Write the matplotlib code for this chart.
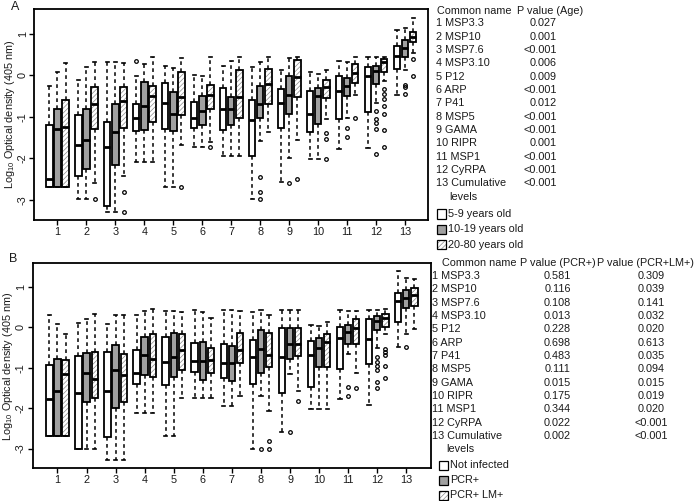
import matplotlib
matplotlib.use('Agg')
import matplotlib.pyplot as plt
from matplotlib.patches import Rectangle, PathPatch

plt.rcParams['font.family'] = ['Liberation Sans', 'DejaVu Sans']
plt.rcParams['mathtext.fontset'] = 'custom'
plt.rcParams['mathtext.rm'] = 'Liberation Sans'
plt.rcParams['mathtext.it'] = 'Liberation Sans:italic'
plt.rcParams['hatch.linewidth'] = 0.5

# ---------------- data ----------------
groups = list(range(1, 14))
tick_labels = [str(g) for g in groups]
y_ticks = [-3, -2, -1, 0, 1]

# (whisker low, Q1, median, Q3, whisker high) per antigen 1..13
# Panel A: age groups
age_5_9 = [(-2.70, -2.70, -2.51, -1.21, -0.27), (-2.98, -2.42, -1.69, -0.96, -0.11),
           (-3.29, -3.15, -1.73, -1.13, 0.31), (-2.10, -1.35, -1.04, -0.69, -0.03),
           (-2.69, -1.29, -0.66, -0.19, 0.22), (-1.74, -1.26, -1.04, -0.65, 0.01),
           (-1.94, -1.32, -0.82, -0.31, 0.23), (-2.98, -1.94, -1.08, -0.59, 0.19),
           (-2.57, -1.28, -0.68, -0.34, 0.12), (-2.02, -1.36, -0.94, -0.39, 0.09),
           (-1.78, -1.05, -0.38, -0.02, 0.35), (-1.76, -0.89, -0.03, 0.19, 0.43),
           (-0.47, 0.15, 0.46, 0.71, 1.09)]
age_5_9_out = {4: [0.35]}

age_10_19 = [(-2.70, -2.70, -1.29, -0.81, 0.09), (-2.98, -2.26, -1.55, -0.81, 0.21),
             (-3.29, -2.17, -1.37, -0.69, 0.31), (-2.10, -1.33, -0.73, -0.16, 0.28),
             (-2.69, -1.34, -0.94, -0.41, 0.17), (-1.74, -1.21, -0.85, -0.51, -0.03),
             (-1.94, -1.21, -0.81, -0.52, 0.35), (-1.58, -1.03, -0.70, -0.25, 0.32),
             (-2.00, -0.93, -0.47, -0.03, 0.41), (-2.02, -1.18, -0.51, -0.30, 0.03),
             (-1.04, -0.50, -0.27, -0.06, 0.31), (-0.68, -0.21, 0.11, 0.23, 0.43),
             (0.13, 0.43, 0.65, 0.85, 1.13)]
age_10_19_out = {8: [-2.45, -2.82, -2.98], 9: [-2.60], 11: [-1.26, -1.48],
                 12: [-0.86, -1.05, -1.14, -1.30, -1.89], 13: [-0.23, -0.29, -0.45]}

age_20_80 = [(-2.70, -2.70, -1.25, -0.60, 0.29), (-2.59, -1.30, -0.70, -0.28, 0.33),
             (-2.44, -1.28, -0.63, -0.29, 0.29), (-2.10, -1.12, -0.49, -0.27, 0.45),
             (-1.68, -0.96, -0.53, 0.09, 0.41), (-1.60, -0.82, -0.47, -0.24, 0.43),
             (-1.94, -1.03, -0.52, 0.13, 0.43), (-1.37, -0.70, -0.21, 0.14, 0.43),
             (-1.56, -0.53, -0.05, 0.37, 0.43), (-1.06, -0.55, -0.29, -0.12, 0.13),
             (-0.47, -0.19, 0.05, 0.27, 0.43), (-0.15, 0.07, 0.31, 0.39, 0.45),
             (0.53, 0.79, 0.92, 1.05, 1.38)]
age_20_80_out = {2: [-2.99], 3: [-2.82, -3.29], 5: [-2.69], 6: [-1.74], 9: [-2.51],
                 10: [-1.40, -1.54, -2.02], 11: [-1.02],
                 12: [-0.34, -0.46, -0.57, -0.75, -0.93, -1.32, -1.72], 13: [0.38, -0.02]}

# Panel B: infection status
not_infected = [(-2.69, -2.69, -1.78, -0.94, 0.30), (-3.00, -3.00, -1.63, -0.71, 0.12),
                (-3.28, -2.71, -1.58, -0.61, 0.09), (-2.11, -1.41, -1.13, -0.57, 0.31),
                (-2.69, -1.43, -0.86, -0.23, 0.40), (-1.76, -1.11, -0.82, -0.39, 0.43),
                (-1.95, -1.26, -0.88, -0.40, 0.43), (-3.00, -1.39, -0.73, -0.31, 0.39),
                (-2.58, -1.63, -0.73, -0.01, 0.43), (-2.03, -1.47, -0.68, -0.34, 0.07),
                (-1.77, -1.04, -0.27, 0.02, 0.43), (-1.91, -0.90, -0.28, 0.20, 0.43),
                (-0.49, 0.13, 0.65, 0.86, 1.40)]
not_infected_out = {}

pcr_pos = [(-2.69, -2.69, -1.58, -0.77, 0.09), (-3.00, -1.84, -1.13, -0.64, 0.20),
           (-3.28, -2.00, -1.05, -0.44, 0.32), (-2.11, -1.17, -0.68, -0.24, 0.40),
           (-2.69, -1.23, -0.73, -0.13, 0.40), (-1.76, -1.31, -0.82, -0.36, 0.39),
           (-1.95, -1.33, -0.88, -0.46, 0.43), (-1.71, -1.12, -0.54, -0.07, 0.43),
           (-1.15, -0.79, -0.42, -0.01, 0.43), (-2.03, -0.98, -0.52, -0.25, 0.03),
           (-0.65, -0.42, -0.11, 0.05, 0.40), (-0.52, -0.07, 0.16, 0.28, 0.43),
           (-0.16, 0.49, 0.73, 0.92, 1.23)]
pcr_pos_out = {8: [-3.01], 9: [-2.58], 11: [-1.47, -1.70],
               12: [-0.73, -0.86, -0.96, -1.05, -1.34, -1.50], 13: [-0.49]}

pcr_lm_pos = [(-2.69, -2.69, -1.16, -0.81, -0.17), (-3.00, -1.74, -1.27, -0.61, 0.34),
              (-3.28, -1.85, -1.18, -0.66, 0.32), (-2.11, -1.22, -0.77, -0.17, 0.46),
              (-1.76, -1.06, -0.55, -0.15, 0.39), (-1.76, -1.13, -0.80, -0.50, 0.24),
              (-1.71, -0.88, -0.57, -0.14, 0.41), (-2.07, -0.97, -0.68, -0.14, 0.32),
              (-1.58, -0.71, -0.42, -0.01, 0.43), (-2.03, -0.97, -0.36, -0.15, 0.14),
              (-1.14, -0.41, -0.02, 0.20, 0.40), (-0.16, 0.01, 0.24, 0.34, 0.45),
              (-0.03, 0.54, 0.80, 0.97, 1.21)]
pcr_lm_pos_out = {8: [-2.82, -3.01], 9: [-1.81], 11: [-1.49],
                  12: [-0.54, -0.61, -0.68, -0.96, -1.25]}

antigen_names = ["1 MSP3.3", "2 MSP10", "3 MSP7.6", "4 MSP3.10", "5 P12", "6 ARP",
                 "7 P41", "8 MSP5", "9 GAMA", "10 RIPR", "11 MSP1", "12 CyRPA",
                 "13 Cumulative"]
p_age = ["0.027", "0.001", "<0.001", "0.006", "0.009", "<0.001", "0.012", "<0.001",
         "<0.001", "0.001", "<0.001", "<0.001", "<0.001"]
p_pcr = ["0.581", "0.116", "0.108", "0.013", "0.228", "0.698", "0.483", "0.111",
         "0.015", "0.175", "0.344", "0.022", "0.002"]
p_pcr_lm = ["0.309", "0.039", "0.141", "0.032", "0.020", "0.613", "0.035", "0.094",
            "0.015", "0.019", "0.020", "<0.001", "<0.001"]
legend_A = ["5-9 years old", "10-19 years old", "20-80 years old"]
legend_B = ["Not infected", "PCR+", "PCR+ LM+"]

# ---------------- styling ----------------
W, H = 698, 501
fig = plt.figure(figsize=(W / 100, H / 100), dpi=100)
TXT = '#1a1a1a'
FS = 7.8
GREY = '#a0a0a0'
HATCH_C = '#8c8c8c'
offsets = [-0.28, 0.0, 0.28]
kinds = ['white', 'grey', 'hatch']


def fx(px):
    return px / W


def fy(py):
    return 1 - py / H


def draw_series(ax, stats_rows, outl, k):
    stats = []
    for i, (lo, q1, med, q3, hi) in enumerate(stats_rows):
        stats.append(dict(whislo=lo, q1=q1, med=med, q3=q3, whishi=hi,
                          fliers=outl.get(i + 1, [])))
    pos = [g + offsets[k] for g in groups]
    kind = kinds[k]
    if kind == 'white':
        bprops = dict(facecolor='white', edgecolor='black', linewidth=1.3)
    elif kind == 'grey':
        bprops = dict(facecolor=GREY, edgecolor='black', linewidth=1.3)
    else:
        bprops = dict(facecolor='white', edgecolor=HATCH_C, linewidth=0.0,
                      hatch='///////')
    bp = ax.bxp(stats, positions=pos, widths=0.22, capwidths=0.11,
                patch_artist=True, showfliers=True, manage_ticks=False,
                boxprops=bprops,
                whiskerprops=dict(color='black', linewidth=1.1,
                                  linestyle=(0, (2.4, 2.2))),
                capprops=dict(color='black', linewidth=1.2),
                medianprops=dict(color='black', linewidth=2.0),
                flierprops=dict(marker='o', markersize=2.6,
                                markerfacecolor='none',
                                markeredgecolor='black',
                                markeredgewidth=0.9))
    if kind == 'hatch':
        for b in bp['boxes']:
            ax.add_patch(PathPatch(b.get_path(), fill=False, edgecolor='black',
                                   linewidth=1.3, zorder=b.get_zorder() + 0.1,
                                   transform=b.get_transform()))
        for m in bp['medians']:
            m.set_zorder(5)


def setup_axes(rect, data_sets, xlim):
    ax = fig.add_axes(rect)
    for k, (rows, outl) in enumerate(data_sets):
        draw_series(ax, rows, outl, k)
    ax.set_xlim(*xlim)
    ax.set_ylim(-3.49, 1.59)
    ax.set_xticks(groups)
    ax.set_xticklabels(tick_labels, fontsize=FS, color=TXT)
    ax.set_yticks(y_ticks)
    ax.set_yticklabels([str(v) for v in y_ticks], fontsize=FS, color=TXT,
                       rotation=90, va='center')
    ax.tick_params(axis='both', direction='out', length=3.5, width=1.0,
                   top=False, right=False)
    ax.tick_params(axis='x', pad=1.5)
    ax.tick_params(axis='y', pad=1.2)
    for s in ax.spines.values():
        s.set_linewidth(1.3)
        s.set_color('black')
    return ax


# Panel A
axA = setup_axes([fx(34.3), fy(220), fx(428.3) - fx(34.3), fy(9.3) - fy(220)],
                 [(age_5_9, age_5_9_out), (age_10_19, age_10_19_out),
                  (age_20_80, age_20_80_out)], (0.2, 13.8))
# Panel B
axB = setup_axes([fx(32.5), fy(468.3), fx(430.7) - fx(32.5), fy(263.3) - fy(468.3)],
                 [(not_infected, not_infected_out), (pcr_pos, pcr_pos_out),
                  (pcr_lm_pos, pcr_lm_pos_out)], (0.14, 13.84))

ylab = r'Log$_{10}$ Optical density (405 nm)'
fig.text(fx(10), fy(114.5), ylab, rotation=90, ha='center', va='center',
         fontsize=FS, color=TXT)
fig.text(fx(8.5), fy(366), ylab, rotation=90, ha='center', va='center',
         fontsize=FS, color=TXT)
fig.text(fx(15), fy(7), 'A', ha='center', va='center', fontsize=9, color=TXT)
fig.text(fx(13.5), fy(259), 'B', ha='center', va='center', fontsize=9, color=TXT)

# Table A
fig.text(fx(436.7), fy(10.7), 'Common name', ha='left', va='center', fontsize=FS, color=TXT)
fig.text(fx(516.7), fy(10.7), 'P value (Age)', ha='left', va='center', fontsize=FS, color=TXT)
for i, (nm, pv) in enumerate(zip(antigen_names, p_age)):
    y = 23.5 + 13.33 * i
    fig.text(fx(435.5), fy(y), nm, ha='left', va='center', fontsize=FS, color=TXT)
    fig.text(fx(556.7), fy(y), pv, ha='right', va='center', fontsize=FS, color=TXT)
fig.text(fx(449.3), fy(23.5 + 13.33 * 13), 'levels', ha='left', va='center', fontsize=FS, color=TXT)

fills = [dict(facecolor='white'), dict(facecolor=GREY),
         dict(facecolor='white', hatch='///////')]


def legend(x0, ys, labels):
    for k, (y, lab) in enumerate(zip(ys, labels)):
        kw = fills[k]
        if 'hatch' in kw:
            r = Rectangle((fx(x0), fy(y + 4.5)), 9 / W, 9 / H, transform=fig.transFigure,
                          facecolor='white', edgecolor=HATCH_C, hatch=kw['hatch'],
                          linewidth=0)
            fig.patches.append(r)
            r2 = Rectangle((fx(x0), fy(y + 4.5)), 9 / W, 9 / H, transform=fig.transFigure,
                           fill=False, edgecolor='black', linewidth=0.9)
            fig.patches.append(r2)
        else:
            r = Rectangle((fx(x0), fy(y + 4.5)), 9 / W, 9 / H, transform=fig.transFigure,
                          facecolor=kw['facecolor'], edgecolor='black', linewidth=0.9)
            fig.patches.append(r)
        fig.text(fx(x0 + 11.5), fy(y), lab, ha='left', va='center', fontsize=FS, color=TXT)


legend(437, [214, 229.5, 245], legend_A)

# Table B
fig.text(fx(441.7), fy(263.3), 'Common name', ha='left', va='center', fontsize=FS, color=TXT)
fig.text(fx(520), fy(263.3), 'P value (PCR+)', ha='left', va='center', fontsize=FS, color=TXT)
fig.text(fx(596.7), fy(263.3), 'P value (PCR+LM+)', ha='left', va='center', fontsize=FS, color=TXT)
for i, (nm, p1, p2) in enumerate(zip(antigen_names, p_pcr, p_pcr_lm)):
    y = 276 + 13.33 * i
    fig.text(fx(432.5), fy(y), nm, ha='left', va='center', fontsize=FS, color=TXT)
    fig.text(fx(557.5), fy(y), p1, ha='center', va='center', fontsize=FS, color=TXT)
    fig.text(fx(651), fy(y), p2, ha='center', va='center', fontsize=FS, color=TXT)
fig.text(fx(446.5), fy(276 + 13.33 * 13), 'levels', ha='left', va='center', fontsize=FS, color=TXT)

legend(439, [465, 480, 495], legend_B)

fig.savefig('out.png', dpi=100)
